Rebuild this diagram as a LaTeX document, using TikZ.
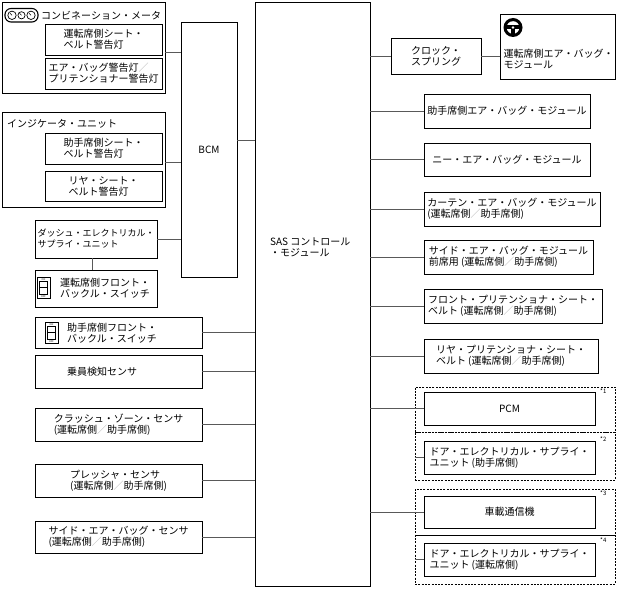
\documentclass[tikz,border=0pt]{standalone}
\usepackage{fontspec}
\setmainfont{Noto Sans CJK JP}
\usetikzlibrary{positioning}

\newcommand{\gsl}{{\color{black!30}／}}

\begin{document}
\begin{tikzpicture}[x=1pt, y=-1pt, font=\fontsize{10}{11}\selectfont]
        \tikzset{box/.style={draw, line width=0.9pt, align=left, inner sep=0pt},
                 wire/.style={draw=black!65, line width=0.7pt},
                 group/.style={draw, dash pattern=on 2pt off 1.3pt, line width=0.7pt, minimum width=200pt},
                 note/.style={font=\fontsize{6}{6}\selectfont, anchor=north west, inner sep=0pt},
                 txt/.style={align=left, inner sep=0pt, anchor=west},
                 tiny/.style={font=\fontsize{2.5}{3}\selectfont, inner sep=0pt}}
        \useasboundingbox (0,0) rectangle (617,588);

        % left side: meter, indicator, BCM
        \node[box, minimum width=163pt, minimum height=91pt] (meter) at (83.5,47.5) {};
        \node[txt] (meterTitle) at (41,16) {コンビネーション・メータ};
        \node[box, minimum width=117pt, minimum height=31pt] (meterSeat) at (103.5,39.5) {運転席側シート・\\ベルト警告灯};
        \node[box, minimum width=117pt, minimum height=31pt] (meterAir) at (103.5,73.5) {エア・バッグ警告灯\gsl\\プリテンショナー警告灯};
        \node[box, minimum width=163pt, minimum height=95pt] (indic) at (83.5,159.5) {};
        \node[txt] (indicTitle) at (7,124) {インジケータ・ユニット};
        \node[box, minimum width=117pt, minimum height=31pt] (indSeat) at (103.5,148.5) {助手席側シート・\\ベルト警告灯};
        \node[box, minimum width=117pt, minimum height=30pt] (indRear) at (103.5,186) {リヤ・シート・\\ベルト警告灯};
        \node[box, minimum width=56pt, minimum height=255pt] (bcm) at (209,149.5) {BCM};

        \node[box, minimum width=122pt, minimum height=38pt, font=\fontsize{9}{11}\selectfont] (desu) at (96,239) {ダッシュ・エレクトリカル・\\サプライ・ユニット};
        \node[box, minimum width=122pt, minimum height=37pt] (buckleD) at (96,288.5) {};
        \node[txt] (buckleDtxt) at (60,288.5) {運転席側フロント・\\バックル・スイッチ};
        \node[box, minimum width=167pt, minimum height=31pt] (buckleP) at (118.5,332.5) {};
        \node[txt] (bucklePtxt) at (67,333) {助手席側フロント・\\バックル・スイッチ};
        \node[box, minimum width=167pt, minimum height=33pt] (occ) at (118.5,371.5) {};
        \node[txt] (occtxt) at (67,371.5) {乗員検知センサ};
        \node[box, minimum width=167pt, minimum height=33pt] (crash) at (118.5,424.5) {クラッシュ・ゾーン・センサ\\(運転席側\gsl 助手席側)};
        \node[box, minimum width=167pt, minimum height=33pt] (press) at (118.5,480.5) {プレッシャ・センサ\\ (運転席側\gsl 助手席側)};
        \node[box, minimum width=167pt, minimum height=32pt] (sideS) at (118.5,537) {サイド・エア・バッグ・センサ\\(運転席側\gsl 助手席側)};

        % centre
        \node[box, minimum width=115pt, minimum height=584pt] (sas) at (312.5,294) {};
        \node[txt] (sastxt) at (270,247) {SAS コントロール\\・モジュール};

        % right side
        \node[box, minimum width=90pt, minimum height=36pt] (clock) at (436,56) {クロック・\\スプリング};
        \node[box, minimum width=115pt, minimum height=65pt] (airD) at (557.5,46.5) {};
        \node[txt] (airDtxt) at (503.5,59) {運転席側エア・バッグ・\\モジュール};
        \node[box, minimum width=166pt, minimum height=34pt] (airP) at (507,111) {助手席側エア・バッグ・モジュール};
        \node[box, minimum width=166pt, minimum height=33pt] (knee) at (507,159.5) {ニー・エア・バッグ・モジュール};
        \node[box, minimum width=176pt, minimum height=34pt] (curtain) at (512,209) {カーテン・エア・バッグ・モジュール\\(運転席側\gsl 助手席側)};
        \node[box, minimum width=169pt, minimum height=34pt] (sideM) at (508.5,257) {サイド・エア・バッグ・モジュール\\前席用 (運転席側\gsl 助手席側)};
        \node[box, minimum width=178pt, minimum height=34pt] (preF) at (513,306) {フロント・プリテンショナ・シート・\\ベルト (運転席側\gsl 助手席側)};
        \node[box, minimum width=174pt, minimum height=34pt] (preR) at (511,356) {リヤ・プリテンショナ・シート・\\ベルト (運転席側\gsl 助手席側)};

        \node[group, minimum height=45pt] (grp1a) at (515,409.5) {};
        \node[group, minimum height=48pt] (grp1b) at (515,456) {};
        \node[group, minimum height=46pt] (grp2a) at (515,512) {};
        \node[group, minimum height=49pt] (grp2b) at (515,559.5) {};
        \node[box, minimum width=171pt, minimum height=33pt] (pcm) at (509.5,408.5) {PCM};
        \node[box, minimum width=171pt, minimum height=33pt] (desuP) at (509.5,457.5) {ドア・エレクトリカル・サプライ・\\ユニット (助手席側)};
        \node[box, minimum width=171pt, minimum height=32pt] (tcu) at (509.5,512) {車載通信機};
        \node[box, minimum width=171pt, minimum height=33pt] (desuD) at (509.5,559.5) {ドア・エレクトリカル・サプライ・\\ユニット (運転席側)};
        \node[note] (n1) at (600,389) {*1};
        \node[note] (n2) at (600,437) {*2};
        \node[note] (n3) at (600,491) {*3};
        \node[note] (n4) at (600,538) {*4};

        % connections
        \coordinate (meterOut) at ([yshift=-4.5pt]meter.east);
        \coordinate (indicOut) at ([yshift=-2.5pt]indic.east);
        \coordinate (bcmOut) at ([yshift=9.5pt]bcm.east);
        \coordinate (desuDown) at ([xshift=-4pt]desu.south);
        \draw[wire] (meterOut) -- (meterOut -| bcm.west);
        \draw[wire] (indicOut) -- (indicOut -| bcm.west);
        \draw[wire] (desu.east) -- (desu.east -| bcm.west);
        \draw[wire] (desuDown) -- (desuDown |- buckleD.north);
        \draw[wire] (bcmOut) -- (bcmOut -| sas.west);
        \foreach \n in {buckleP, occ, crash, press, sideS}
            \draw[wire] (\n.east) -- (\n.east -| sas.west);
        \foreach \n in {clock, airP, knee, curtain, sideM, preF, preR, pcm, tcu}
            \draw[wire] (\n.west) -- (\n.west -| sas.east);
        \draw[wire] (clock.east) -- (clock.east -| airD.west);
        \draw[wire] (desuP.west) -- (desuP.west -| grp1b.west);
        \draw[wire] (desuD.west) -- (desuD.west -| grp2b.west);

        % icons
        \draw[line width=1.1pt, rounded corners=6pt] (5,8.5) rectangle (38,22);
        \foreach \cx/\r in {12/4.2pt, 21.5/3.6pt, 31/4.2pt} {
            \draw[line width=0.7pt] (\cx,15.3) circle (\r);
            \draw[line width=0.6pt] (\cx,15.3) -- (\cx-2,13.3);
        }
        \fill (513,27.5) circle (9.5pt);
        \fill[white] (513,27.5) circle (6.3pt);
        \fill (504,25.5) rectangle (522,29.5);
        \fill (511,27) rectangle (515,36);
        \fill[white] (513,27.5) circle (1.4pt);
        \foreach \bx/\by in {37/277, 45/322} {
            \draw[line width=0.8pt] (\bx,\by) rectangle (\bx+13,\by+21);
            \draw[line width=0.6pt] (\bx+2.5,\by+4) rectangle (\bx+10.5,\by+17.5);
            \draw[line width=0.6pt] (\bx+2.5,\by+10.5) -- (\bx+10.5,\by+10.5);
            \node[tiny] (on\bx) at (\bx+6.5,\by+2.2) {ON};
            \node[tiny] (off\bx) at (\bx+6.5,\by+19.3) {OFF};
        }
\end{tikzpicture}
\end{document}
